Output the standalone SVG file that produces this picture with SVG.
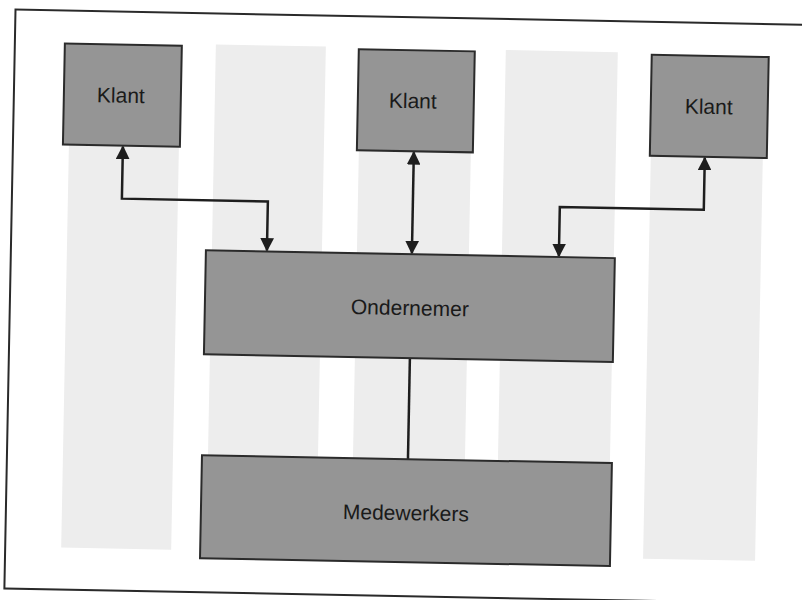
<svg xmlns="http://www.w3.org/2000/svg" width="802" height="600" viewBox="0 0 802 600">
  <defs>
    <style>
      .frame { fill: #ffffff; stroke: #2a2a2a; stroke-width: 2; }
      .stripe { fill: #ededed; }
      .box { fill: #959595; stroke: #2b2b2b; stroke-width: 2; }
      .lbl { font-family: "Liberation Sans", Arial, sans-serif; font-size: 21px; fill: #1a1a1a; text-anchor: middle; }
      .conn { fill: none; stroke: #1e1e1e; stroke-width: 2.5; }
    </style>
    <marker id="arrow" viewBox="0 0 10 10" refX="9" refY="5" markerWidth="5.5" markerHeight="5.5" markerUnits="strokeWidth" orient="auto-start-reverse">
      <path d="M0,0 L10,5 L0,10 z" fill="#1e1e1e"/>
    </marker>
  </defs>
  <rect x="0" y="0" width="802" height="600" fill="#ffffff"/>
  <g transform="rotate(1.1 400 300)">
    <rect class="frame" x="10" y="17" width="820" height="579"/>
    <g id="background-stripes">
      <rect class="stripe" x="66" y="52" width="110" height="502"/>
      <rect class="stripe" x="211" y="48" width="110" height="506"/>
      <rect class="stripe" x="356" y="52" width="112" height="502"/>
      <rect class="stripe" x="501" y="48" width="112" height="506"/>
      <rect class="stripe" x="648" y="52" width="112" height="502"/>
    </g>
    <g id="connectors">
      <polyline class="conn" points="120,152 120,204 266,204 266,253" marker-start="url(#arrow)" marker-end="url(#arrow)"/>
      <line class="conn" x1="411" y1="152" x2="411" y2="253" marker-start="url(#arrow)" marker-end="url(#arrow)"/>
      <polyline class="conn" points="702,152 702,204 558,204 558,253" marker-start="url(#arrow)" marker-end="url(#arrow)"/>
      <line class="conn" x1="411" y1="358" x2="411" y2="459"/>
    </g>
    <g id="klant1">
      <rect class="box" x="60" y="50" width="117" height="101"/>
      <text class="lbl" x="117" y="108">Klant</text>
    </g>
    <g id="klant2">
      <rect class="box" x="354" y="50" width="116" height="101"/>
      <text class="lbl" x="409" y="108">Klant</text>
    </g>
    <g id="klant3">
      <rect class="box" x="647" y="50" width="117" height="101"/>
      <text class="lbl" x="705" y="108">Klant</text>
    </g>
    <g id="ondernemer">
      <rect class="box" x="205" y="254" width="409" height="104"/>
      <text class="lbl" x="410" y="315">Ondernemer</text>
    </g>
    <g id="medewerkers">
      <rect class="box" x="205" y="459" width="410" height="103"/>
      <text class="lbl" x="410" y="520">Medewerkers</text>
    </g>
  </g>
</svg>
